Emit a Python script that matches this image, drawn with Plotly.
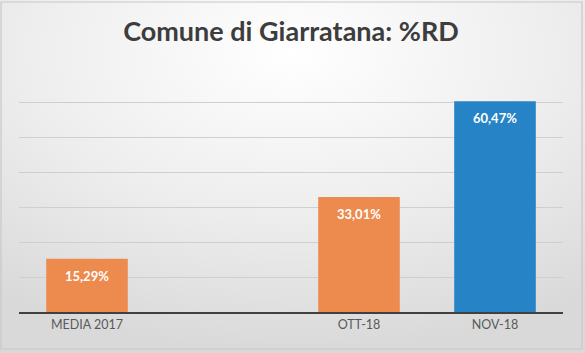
import base64
import plotly.graph_objects as go

# ---- data ----
categories = ["MEDIA 2017", " ", "OTT-18", "NOV-18"]
values = [15.29, None, 33.01, 60.47]
bar_colors = ["#ED8B4F", "#ED8B4F", "#ED8B4F", "#2683C6"]
title_text = "Comune di Giarratana: %RD"


def fmt(v):
    return f"{v:.2f}".replace(".", ",") + "%"


# radial gradient background as an SVG data URI
svg = (
    '<svg xmlns="http://www.w3.org/2000/svg" width="585" height="353">'
    '<defs><radialGradient id="g" cx="50%" cy="15%" r="85%" fx="50%" fy="15%">'
    '<stop offset="0%" stop-color="#ffffff"/>'
    '<stop offset="55%" stop-color="#ededed"/>'
    '<stop offset="100%" stop-color="#d9d9d9"/>'
    '</radialGradient></defs>'
    '<rect x="0" y="0" width="585" height="353" fill="url(#g)"/>'
    '</svg>'
)
bg_uri = "data:image/svg+xml;base64," + base64.b64encode(svg.encode()).decode()

fig = go.Figure()
fig.add_trace(go.Bar(
    x=categories,
    y=values,
    marker=dict(color=bar_colors, line=dict(width=0)),
    width=0.6,
    hoverinfo="skip",
))

annotations = []
for c, v in zip(categories, values):
    if v is None:
        continue
    annotations.append(dict(
        x=c, y=v, xref="x", yref="y",
        text=f"<b>{fmt(v)}</b>",
        showarrow=False,
        yanchor="middle",
        yshift=-17,
        font=dict(family="Lato", size=13, color="#FFFFFF"),
    ))

fig.update_layout(
    width=585,
    height=353,
    margin=dict(l=19, r=22, t=68, b=41),
    paper_bgcolor="#eeeeee",
    plot_bgcolor="rgba(0,0,0,0)",
    showlegend=False,
    title=dict(
        text=f"<b>{title_text}</b>",
        x=0.5, xanchor="center",
        y=1 - 32 / 353, yanchor="middle",
        xref="paper",
        font=dict(family="Lato", size=27, color="#3d3d3d"),
    ),
    images=[dict(
        source=bg_uri,
        xref="paper", yref="paper",
        x=-19 / 544, y=1 + 68 / 244,
        sizex=585 / 544, sizey=353 / 244,
        xanchor="left", yanchor="top",
        sizing="stretch",
        layer="below",
    )],
    shapes=[dict(
        type="rect", xref="paper", yref="paper",
        x0=-18 / 544, x1=1 + 19 / 544,
        y0=-37 / 244, y1=1 + 66 / 244,
        line=dict(color="#c8c8c8", width=1.2),
        fillcolor="rgba(0,0,0,0)",
        layer="below",
    )],
    annotations=annotations,
    bargap=0.4,
)

fig.update_xaxes(
    type="category",
    showgrid=False,
    showline=True,
    linecolor="#404040",
    linewidth=2,
    ticks="",
    tickfont=dict(family="Lato", size=12.5, color="#595959"),
    fixedrange=True,
)
fig.update_yaxes(
    range=[0, 70],
    dtick=10,
    showgrid=True,
    gridcolor="#cfcfcf",
    gridwidth=1,
    showticklabels=False,
    zeroline=False,
    fixedrange=True,
)

fig.write_html("out.html", config={"displayModeBar": False})
